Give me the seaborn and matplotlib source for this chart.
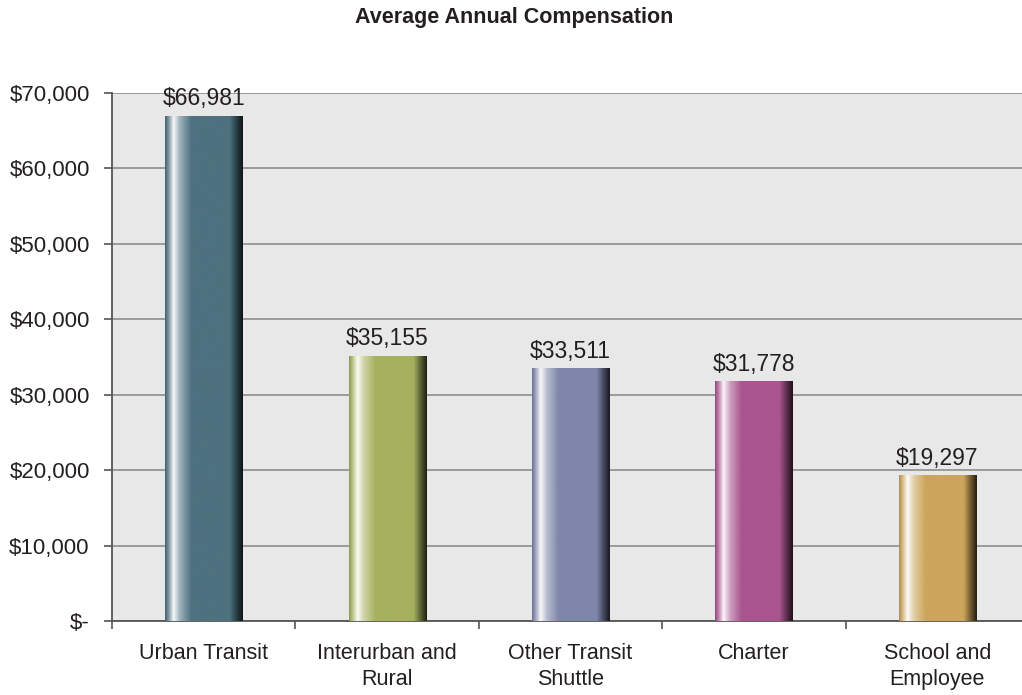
import numpy as np
import pandas as pd
import matplotlib
matplotlib.use("Agg")
import matplotlib.pyplot as plt
from matplotlib.colors import LinearSegmentedColormap, to_rgb
import seaborn as sns

# Chart data
categories = ["Urban Transit", "Interurban and\nRural", "Other Transit\nShuttle",
              "Charter", "School and\nEmployee"]
compensation = [66981, 35155, 33511, 31778, 19297]
value_labels = ["$66,981", "$35,155", "$33,511", "$31,778", "$19,297"]
y_ticks = [0, 10000, 20000, 30000, 40000, 50000, 60000, 70000]
y_tick_labels = ["$-", "$10,000", "$20,000", "$30,000", "$40,000",
                 "$50,000", "$60,000", "$70,000"]
bar_colors = ["#4e717f", "#a6b15f", "#7f86aa", "#a9558f", "#cca55c"]

df = pd.DataFrame({"category": categories, "value": compensation})

sns.set_theme(style="white")
plt.rcParams["font.family"] = ["Liberation Sans", "DejaVu Sans"]
text_color = "#231f20"

fig = plt.figure(figsize=(10.22, 6.95), dpi=100)
ax = fig.add_axes([112 / 1022, 74 / 695, 917 / 1022, 528 / 695])
ax.set_facecolor("#e8e8e8")

sns.barplot(data=df, x="category", y="value", hue="category",
            palette=bar_colors, width=0.42, legend=False, ax=ax, zorder=3)


def cylinder_cmap(color):
    """Horizontal shading that gives each bar a rounded, tube-like look."""
    base = np.array(to_rgb(color))
    white = np.ones(3)
    stops = [
        (0.00, base * 0.85),
        (0.05, base * 0.70 + white * 0.30),
        (0.11, base * 0.05 + white * 0.95),
        (0.19, base * 0.55 + white * 0.45),
        (0.34, base),
        (0.83, base),
        (0.92, base * 0.55),
        (1.00, base * 0.18),
    ]
    return LinearSegmentedColormap.from_list("cyl", [(p, tuple(np.clip(c, 0, 1))) for p, c in stops])


grad = np.linspace(0, 1, 256).reshape(1, -1)
for patch, color in zip(ax.patches, bar_colors):
    x0, y0 = patch.get_x(), patch.get_y()
    w, h = patch.get_width(), patch.get_height()
    img = ax.imshow(grad, cmap=cylinder_cmap(color), aspect="auto",
                    extent=[x0, x0 + w, y0, y0 + h], zorder=4,
                    interpolation="bilinear")
    img.set_clip_path(patch)
    patch.set_edgecolor("none")

# Value labels above the bars
for patch, label in zip(ax.patches, value_labels):
    ax.annotate(label, (patch.get_x() + patch.get_width() / 2, patch.get_height()),
                xytext=(0, 4), textcoords="offset points", ha="center", va="bottom",
                fontsize=16.5, color=text_color, zorder=5)

ax.set_xlim(-0.5, len(categories) - 0.5)
ax.set_ylim(0, 70000)
ax.set_yticks(y_ticks)
ax.set_yticklabels(y_tick_labels)
ax.yaxis.grid(True, color="#9a9a9a", linewidth=1.4, zorder=1)
ax.set_axisbelow(True)

# Category labels sit between boundary ticks
ax.set_xticks(range(len(categories)))
ax.set_xticklabels(categories, linespacing=1.3)
ax.set_xticks(np.arange(-0.5, len(categories) + 0.5, 1.0), minor=True)
ax.tick_params(axis="x", which="major", length=0, pad=16, labelsize=15.5, labelcolor=text_color)
ax.tick_params(axis="x", which="minor", length=6, width=1.2, color="#555555", direction="out")
ax.tick_params(axis="y", which="major", length=6, width=1.2, color="#555555", direction="out",
               pad=10, labelsize=16, labelcolor=text_color)
ax.tick_params(bottom=True, left=True)
ax.xaxis.set_tick_params(which="minor", bottom=True)

for side in ("top", "right"):
    ax.spines[side].set_visible(False)
for side in ("left", "bottom"):
    ax.spines[side].set_color("#555555")
    ax.spines[side].set_linewidth(1.3)

ax.set_xlabel("")
ax.set_ylabel("")

fig.text(514 / 1022, 1 - 18 / 695, "Average Annual Compensation", ha="center", va="center",
         fontsize=15.5, fontweight="bold", color=text_color)

fig.savefig("out.png", dpi=100, facecolor="white")
